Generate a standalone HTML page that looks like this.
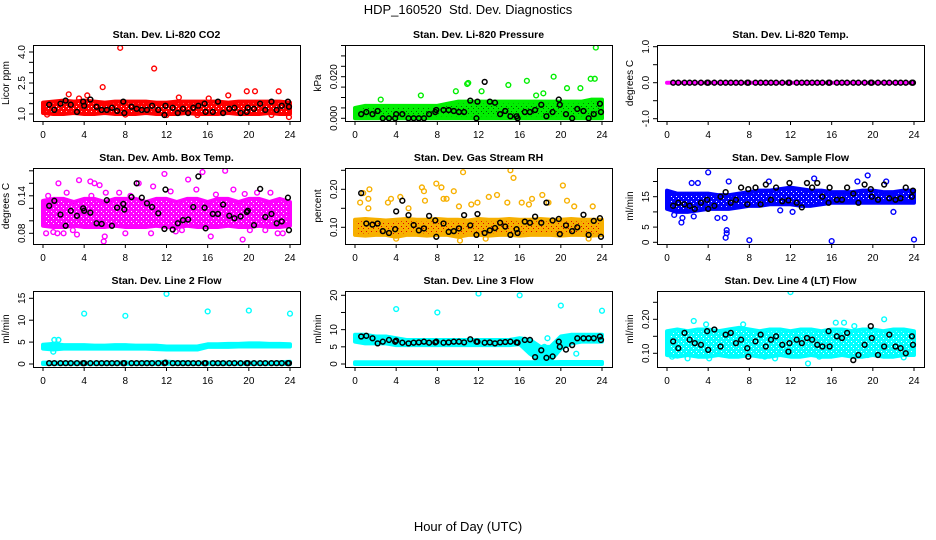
<!DOCTYPE html>
<html><head><meta charset="utf-8">
<style>
html,body{margin:0;padding:0;background:#fff;}
svg{display:block;font-family:"Liberation Sans",sans-serif;}
</style></head>
<body>
<svg id="chart" width="936" height="540" viewBox="0 0 936 540" xmlns="http://www.w3.org/2000/svg">
<defs id="defs"></defs>
<text x="468" y="14" text-anchor="middle" font-size="13">HDP_160520&#160; Std. Dev. Diagnostics</text>
<text x="468" y="531" text-anchor="middle" font-size="13">Hour of Day (UTC)</text>
</svg>
<script>
// shared x ticks
const xTicks = [0,4,8,12,16,20,24];
const hours = [0,1,2,3,4,5,6,7,8,9,10,11,12,13,14,15,16,17,18,19,20,21,22,23,24];
const blackHours = [0.6,1.1,1.7,2.2,2.7,3.3,3.9,4.0,4.6,5.2,5.7,6.2,6.7,7.2,7.8,7.9,8.6,9.1,9.6,10.1,10.6,11.2,11.8,11.9,12.6,13.1,13.6,14.1,14.6,15.1,15.7,15.8,16.5,17,17.5,18.1,18.6,19.2,19.8,19.9,20.5,21.1,21.6,22.2,22.7,23.2,23.8,23.9];

// Panel 1: CO2
const co2BandLo = [1.05,1.0,1.0,1.05,1.0,1.0,1.05,1.0,1.0,1.0,1.05,1.0,1.0,1.0,1.05,1.0,1.0,1.0,1.05,1.0,1.0,1.0,1.05,1.0,1.0];
const co2BandHi = [1.55,1.6,1.65,1.6,1.65,1.6,1.55,1.6,1.6,1.6,1.6,1.55,1.55,1.6,1.6,1.6,1.6,1.6,1.55,1.6,1.6,1.6,1.6,1.6,1.55];
const co2OutX = [7.5,10.8,5.8,2.5,4.3,19.8,20.6,22.9,18,23.9,15,12,22.2,0.4,8,3.5,13.2,16.1];
const co2OutY = [4.2,3.2,2.3,1.95,1.9,2.1,2.1,2.1,1.9,0.85,0.95,0.95,0.95,0.97,0.97,1.75,1.8,1.75];
const co2Black = [1.45,1.2,1.5,1.65,1.45,1.1,1.6,1.4,1.7,1.35,1.2,1.2,1.3,1.15,1.6,1.05,1.35,1.25,1.2,1.2,1.4,1.2,0.95,1.4,1.3,1.05,1.25,1.05,1.3,1.4,1.5,1.1,1.1,1.6,1.05,1.25,1.3,1.05,1.1,1.3,1.25,1.5,1.2,1.6,1.2,1.4,1.6,1.35];

// Panel 2: Pressure
const presBandLo = [0,0,0,0,0,0,0,0,0,0,0,0,0,0,0,0,0,0,0,0,0,0,0,0,0];
const presBandHi = [0.005,0.006,0.006,0.006,0.006,0.006,0.006,0.006,0.006,0.007,0.008,0.008,0.008,0.008,0.008,0.008,0.008,0.008,0.008,0.008,0.008,0.008,0.008,0.009,0.009];
const presOutX = [23.4,23.3,22.9,19.3,16.7,11,14.9,20.6,21.9,9.8,12.3,6.4,2.5,18.3,17.6,10.9];
const presOutY = [0.034,0.019,0.019,0.020,0.018,0.017,0.016,0.0145,0.0145,0.013,0.013,0.011,0.009,0.012,0.011,0.0165];
const presBlack = [0.002,0.003,0.002,0.0035,0,0,0,0.002,0.002,0,0,0,0,0.002,0.003,0.004,0.004,0.004,0.0035,0.003,0.003,0.0085,0,0.008,0.0175,0.008,0.0075,0.002,0.0035,0.001,0.001,0,0.003,0.003,0.004,0.0065,0.001,0.003,0.009,0.0065,0.002,0,0.0045,0.0035,0,0.002,0.007,0.003];

// Panel 3: Temp
const tempBandLo = [0,0,0,0,0,0,0,0,0,0,0,0,0,0,0,0,0,0,0,0,0,0,0,0,0];
const tempBandHi = [0,0,0,0,0,0,0,0,0,0,0,0,0,0,0,0,0,0,0,0,0,0,0,0,0];
const tempOutX = [];
const tempOutY = [];
const tempBlack = [0,0,0,0,0,0,0,0,0,0,0,0,0,0,0,0,0,0,0,0,0,0,0,0,0,0,0,0,0,0,0,0,0,0,0,0,0,0,0,0,0,0,0,0,0,0,0,0];

// Panel 4: Amb Box Temp
const ambBandLo = [0.092,0.09,0.09,0.092,0.09,0.09,0.09,0.092,0.09,0.09,0.09,0.092,0.09,0.09,0.092,0.09,0.09,0.09,0.092,0.09,0.09,0.092,0.09,0.09,0.092];
const ambBandHi = [0.132,0.135,0.135,0.13,0.135,0.135,0.13,0.135,0.135,0.135,0.13,0.135,0.135,0.13,0.135,0.135,0.13,0.135,0.135,0.13,0.135,0.135,0.13,0.135,0.13];
const ambOutX = [5.9,6.0,1.5,3.5,4.6,5.0,5.5,11.8,15.5,17.7,17.7,14.1,9.3,19.4,16.3,0.3,1.4,2.0,3.3,13.5,21.6,22.8,23.3,8,10.5,12.9,18.5,2.3,6.1,7.4,0.5,20.8,22.1,19.6,16.8,14.9,10.7,4.7,8.5,1.0,2.9,12.4,20.1];
const ambOutY = [0.067,0.075,0.16,0.165,0.163,0.16,0.157,0.175,0.178,0.18,0.188,0.166,0.16,0.07,0.075,0.08,0.08,0.08,0.078,0.085,0.085,0.08,0.08,0.08,0.08,0.083,0.15,0.145,0.145,0.145,0.14,0.145,0.145,0.143,0.142,0.15,0.155,0.14,0.14,0.082,0.085,0.147,0.085];
const ambBlack = [0.124,0.132,0.110,0.092,0.116,0.108,0.120,0.116,0.113,0.096,0.095,0.133,0.092,0.121,0.127,0.118,0.138,0.160,0.137,0.128,0.122,0.112,0.087,0.150,0.086,0.096,0.101,0.102,0.122,0.171,0.121,0.088,0.111,0.111,0.126,0.108,0.104,0.107,0.114,0.116,0.093,0.151,0.106,0.111,0.096,0.099,0.137,0.085];

// Panel 5: Gas Stream RH
const rhBandLo = [0.08,0.078,0.08,0.08,0.075,0.08,0.08,0.078,0.08,0.08,0.075,0.08,0.08,0.078,0.08,0.08,0.078,0.08,0.08,0.08,0.078,0.08,0.08,0.078,0.08];
const rhBandHi = [0.12,0.122,0.12,0.118,0.12,0.122,0.12,0.12,0.122,0.12,0.12,0.118,0.122,0.12,0.12,0.122,0.12,0.12,0.122,0.12,0.12,0.122,0.12,0.12,0.12];
const rhOutX = [0.5,0.8,1.4,1.3,1.3,3.2,3.5,4.4,6.5,6.7,6.8,7.9,8.4,8.6,8.9,9.6,10.5,10.1,11.3,11.9,13,13.8,14.8,15.1,15.4,16.2,17.2,18.2,18.8,20.2,20.6,21.3,23.1,10.2,12.7,4,22.7,5.2,16.9];
const rhOutY = [0.165,0.19,0.2,0.175,0.15,0.165,0.175,0.18,0.205,0.195,0.17,0.215,0.205,0.175,0.175,0.195,0.245,0.155,0.16,0.165,0.18,0.185,0.165,0.25,0.23,0.165,0.175,0.185,0.165,0.21,0.17,0.155,0.155,0.065,0.07,0.07,0.07,0.15,0.16];
const rhBlack = [0.19,0.11,0.107,0.11,0.09,0.085,0.095,0.142,0.17,0.132,0.106,0.092,0.097,0.13,0.118,0.075,0.11,0.088,0.09,0.097,0.132,0.105,0.08,0.135,0.085,0.092,0.098,0.112,0.102,0.08,0.095,0.085,0.115,0.112,0.128,0.112,0.165,0.118,0.122,0.082,0.105,0.09,0.1,0.133,0.08,0.117,0.124,0.075];

// Panel 6: Sample Flow
const flowBandLo = [11,10,10,10.5,11,11,11,11.5,12,12,12.5,12.5,12.5,12,12,12.5,13,13,13,13,13,13,13,13,13];
const flowBandHi = [17,16,16,16,16,15.5,15.5,16,16.5,17,17,17.5,18,17.5,17,17,16.5,16.5,16.5,17,17,16.5,16.5,17,17];
const flowOutX = [4,3,5.8,5.8,5.7,8,16,24,1.4,1.5,4.9,5.6,22,12.2,11,19.5,14.3,6,2.4,9.9,21.3,18.5,0.7,2.6];
const flowOutY = [23,19.5,4,3,1.5,0.7,0.4,0.9,6.5,8,8,8,10,10,10.5,22,21,20,19.5,20,20,20,9,8.5];
const flowBlack = [12,13,12.5,12,11,13,14,11,12,15,16.5,13,14,18,12.5,17.5,18,12.5,19,14,18,13.5,13.8,19.5,13,11.5,19.5,18,19.5,15,13,18,14,14,18,16,13,19,17.5,15,14,19,14.5,14,14.5,18,15,17];

// Panel 7: Line 2 Flow
const l2BandLo = [3.5,3.3,3.5,3.5,3.5,3.5,3.5,3.5,3.5,3.5,3.5,3.4,3.3,3.3,3.3,3.3,3.9,3.9,3.9,4.0,4.0,4.0,4.0,4.0,4.0];
const l2BandHi = [4.4,4.6,4.3,4.3,4.3,4.2,4.2,4.3,4.3,4.2,4.2,4.2,4.0,4.0,4.0,4.0,4.5,4.5,4.6,4.6,4.7,4.7,4.6,4.6,4.5];
const l2Band2Lo = [0,0,0,0,0,0,0,0,0,0,0,0,0,0,0,0,0,0,0,0,0,0,0,0,0];
const l2Band2Hi = [0.3,0.3,0.3,0.3,0.3,0.3,0.3,0.3,0.4,0.3,0.4,0.4,0.5,0.4,0.4,0.3,0.3,0.3,0.3,0.3,0.3,0.3,0.3,0.4,0.5];
const l2OutX = [4,8,12,16,20,24,1.1,1.5,1.0];
const l2OutY = [11.5,11,16,12,12.2,11.5,5.5,5.5,2.8];
const l2Black = [0.2,0.2,0.2,0.2,0.2,0.2,0.2,0.2,0.2,0.2,0.2,0.2,0.2,0.2,0.2,0.2,0.2,0.2,0.2,0.2,0.2,0.2,0.2,0.3,0.2,0.2,0.2,0.2,0.2,0.2,0.2,0.2,0.2,0.2,0.2,0.2,0.2,0.2,0.2,0.2,0.2,0.2,0.2,0.2,0.2,0.2,0.2,0.2];

// Panel 8: Line 3 Flow
const l3BandLo = [6.5,6,6,6,5.5,5.5,5.5,5.5,5.5,5.5,5.5,5.5,5.5,5.5,5.5,5.5,5.8,3,1,1,4.5,6,6.5,6.5,6.5];
const l3BandHi = [8.5,8.5,8,8,7.5,7,7,7,7,7,7,7,7,7,7,7,7.5,7,5,5,8,8.5,8.5,8.5,8.5];
const l3Band2Lo = [0,0,0,0,0,0,0,0,0,0,0,0,0,0,0,0,0,0,0,0,0,0,0,0,0];
const l3Band2Hi = [0.5,0.5,0.5,0.5,0.5,0.5,0.5,0.5,0.5,0.5,0.5,0.5,0.5,0.5,0.5,0.5,0.5,0.5,0.5,0.5,0.6,0.6,0.6,0.6,0.6];
const l3OutX = [4,8,12,16,20,24,17.5,18.7,18.4,21.5];
const l3OutY = [16,15,20.5,20,17,15.5,3.5,7.5,5,3];
const l3Black = [8,8.2,7.5,6,6.5,7,6.5,6.8,6.2,6,6.2,6.3,6.5,6.2,6.3,6.5,6.2,6.3,6.5,6.5,6.3,7.2,6.5,6.5,6.2,6.3,6,6.3,6.4,6.5,6.3,6.2,7,7,2,4,1.8,2.2,6.5,5,4.2,5.5,7.5,7.5,7.5,7.5,8,7];

// Panel 9: Line 4 (LT) Flow
const l4BandLo = [0.095,0.09,0.095,0.09,0.09,0.095,0.09,0.09,0.095,0.09,0.09,0.095,0.09,0.09,0.095,0.09,0.09,0.095,0.09,0.09,0.095,0.09,0.09,0.095,0.095];
const l4BandHi = [0.165,0.17,0.165,0.17,0.17,0.165,0.17,0.175,0.17,0.165,0.17,0.17,0.165,0.17,0.17,0.165,0.17,0.17,0.165,0.17,0.17,0.165,0.17,0.17,0.165];
const l4OutX = [4,12,13.7,2,21.1,16.4,2.6,7.4,3.8,17.2,0.5,4.1,10.5,9.5,14.8,19.5,23,18.2];
const l4OutY = [0.29,0.28,0.07,0.085,0.2,0.19,0.195,0.185,0.185,0.19,0.09,0.085,0.085,0.09,0.09,0.095,0.088,0.18];
const l4Black = [0.135,0.115,0.16,0.14,0.13,0.125,0.165,0.11,0.17,0.12,0.155,0.16,0.13,0.14,0.115,0.09,0.135,0.155,0.12,0.14,0.15,0.125,0.105,0.13,0.14,0.13,0.145,0.14,0.125,0.12,0.165,0.12,0.15,0.145,0.16,0.08,0.095,0.125,0.18,0.145,0.095,0.12,0.155,0.12,0.115,0.1,0.15,0.125];

// y tick values / labels
const co2Ticks=[1.0,1.5,2.0,2.5,3.0,3.5,4.0], co2Labels=["1.0","2.5","4.0"];
const presTicks=[0,0.005,0.01,0.015,0.02,0.025,0.03,0.035], presLabels=["0.000","0.020"];
const tempTicks=[-1,-0.5,0,0.5,1], tempLabels=["-1.0","0.0","1.0"];
const ambTicks=[0.08,0.10,0.12,0.14,0.16,0.18], ambLabels=["0.08","0.14"];
const rhTicks=[0.10,0.15,0.20,0.25], rhLabels=["0.10","0.20"];
const flowTicks=[0,5,10,15,20], flowLabels=["0","5","15"];
const l2Ticks=[0,5,10,15], l2Labels=["0","5","10","15"];
const l3Ticks=[0,5,10,15,20], l3Labels=["0","5","10","20"];
const l4Ticks=[0.10,0.15,0.20,0.25], l4Labels=["0.10","0.20"];

const NS="http://www.w3.org/2000/svg";
const svg=document.getElementById('chart');
const defs=document.getElementById('defs');
function mk(tag,attrs,parent){const e=document.createElementNS(NS,tag);for(const k in attrs)e.setAttribute(k,attrs[k]);(parent||svg).appendChild(e);return e;}

const colX=[33,345,657], rowY=[45,168,291], boxW=267, boxH=76;
const panels=[
 {name:'co2',title:'Stan. Dev. Li-820 CO2',ylab:'Licor ppm',c:0,r:0,v0:1.0,p0:114,v1:4.0,p1:52,color:'#ff0000',dot:'#ffffff',lo:co2BandLo,hi:co2BandHi,ox:co2OutX,oy:co2OutY,bk:co2Black,ticks:co2Ticks,labels:co2Labels},
 {name:'pressure',title:'Stan. Dev. Li-820 Pressure',ylab:'kPa',c:1,r:0,v0:0,p0:118.3,v1:0.02,p1:76.7,color:'#00ee00',dot:'#006600',lo:presBandLo,hi:presBandHi,ox:presOutX,oy:presOutY,bk:presBlack,ticks:presTicks,labels:presLabels},
 {name:'temp',title:'Stan. Dev. Li-820 Temp.',ylab:'degrees C',c:2,r:0,v0:-1,p0:118.7,v1:1,p1:46.7,color:'#ff00ff',dot:'#ff00ff',lo:tempBandLo,hi:tempBandHi,ox:tempOutX,oy:tempOutY,bk:tempBlack,ticks:tempTicks,labels:tempLabels},
 {name:'amb-box-temp',title:'Stan. Dev. Amb. Box Temp.',ylab:'degrees C',c:0,r:1,v0:0.08,p0:233.3,v1:0.14,p1:195.8,color:'#ff00ff',dot:'#ffffff',lo:ambBandLo,hi:ambBandHi,ox:ambOutX,oy:ambOutY,bk:ambBlack,ticks:ambTicks,labels:ambLabels},
 {name:'gas-stream-rh',title:'Stan. Dev. Gas Stream RH',ylab:'percent',c:1,r:1,v0:0.10,p0:227.3,v1:0.20,p1:189.3,color:'#f7b000',dot:'#e00000',lo:rhBandLo,hi:rhBandHi,ox:rhOutX,oy:rhOutY,bk:rhBlack,ticks:rhTicks,labels:rhLabels},
 {name:'sample-flow',title:'Stan. Dev. Sample Flow',ylab:'ml/min',c:2,r:1,v0:0,p0:242.3,v1:15,p1:196.7,color:'#0000ff',dot:'#ffffff',lo:flowBandLo,hi:flowBandHi,ox:flowOutX,oy:flowOutY,bk:flowBlack,ticks:flowTicks,labels:flowLabels},
 {name:'line2-flow',title:'Stan. Dev. Line 2 Flow',ylab:'ml/min',c:0,r:2,v0:0,p0:364,v1:15,p1:298.3,color:'#00ffff',dot:'#00ffff',lo:l2BandLo,hi:l2BandHi,lo2:l2Band2Lo,hi2:l2Band2Hi,ox:l2OutX,oy:l2OutY,bk:l2Black,ticks:l2Ticks,labels:l2Labels},
 {name:'line3-flow',title:'Stan. Dev. Line 3 Flow',ylab:'ml/min',c:1,r:2,v0:0,p0:364,v1:20,p1:295.3,color:'#00ffff',dot:'#00ffff',lo:l3BandLo,hi:l3BandHi,lo2:l3Band2Lo,hi2:l3Band2Hi,ox:l3OutX,oy:l3OutY,bk:l3Black,ticks:l3Ticks,labels:l3Labels},
 {name:'line4-flow',title:'Stan. Dev. Line 4 (LT) Flow',ylab:'ml/min',c:2,r:2,v0:0.10,p0:353.3,v1:0.20,p1:319.3,color:'#00ffff',dot:'#ffffff',lo:l4BandLo,hi:l4BandHi,ox:l4OutX,oy:l4OutY,bk:l4Black,ticks:l4Ticks,labels:l4Labels}
];

panels.forEach(p=>{
  const bx=colX[p.c], by=rowY[p.r];
  const x0=bx+10, x1=bx+257;
  const xs=v=>x0+(x1-x0)*v/24;
  const ys=v=>p.p0+(p.p1-p.p0)*(v-p.v0)/(p.v1-p.v0);
  // speckle pattern for dense band
  const pat=mk('pattern',{id:'pat-'+p.name,width:5,height:5,patternUnits:'userSpaceOnUse'},defs);
  mk('rect',{x:0,y:0,width:5,height:5,fill:p.color},pat);
  mk('rect',{x:1,y:1,width:1,height:1,fill:p.dot},pat);
  mk('rect',{x:3,y:3,width:1,height:1,fill:p.dot},pat);
  const g=mk('g',{});
  
  
  const cp=mk('clipPath',{id:'clip-'+p.name},g);
  mk('rect',{x:bx,y:by,width:boxW,height:boxH},cp);
  const t=mk('text',{x:bx+boxW/2,y:by-7,'text-anchor':'middle','font-size':'10.5','font-weight':'bold'},g);
  t.textContent=p.title;
  
  
  const yl=mk('text',{x:0,y:0,transform:`translate(${bx-24},${by+boxH/2}) rotate(-90)`,'text-anchor':'middle','font-size':'10'},g);
  yl.textContent=p.ylab;
  
  
  const data=mk('g',{'clip-path':`url(#clip-${p.name})`},g);
  function band(lo,hi){
    let pts=hours.map((h,i)=>xs(h)+','+ys(hi[i]));
    for(let i=hours.length-1;i>=0;i--)pts.push(xs(hours[i])+','+ys(lo[i]));
    const b=mk('polygon',{points:pts.join(' '),fill:`url(#pat-${p.name})`,stroke:p.color,'stroke-width':4,'stroke-linejoin':'round'},data);
    
    
  }
  band(p.lo,p.hi);
  if(p.lo2)band(p.lo2,p.hi2);
  p.ox.forEach((x,i)=>{
    const c=mk('circle',{cx:xs(x),cy:ys(p.oy[i]),r:2.4,fill:'none',stroke:p.color,'stroke-width':1.4},data);
    
    
  });
  blackHours.forEach((h,i)=>{
    const c=mk('circle',{cx:xs(h),cy:ys(p.bk[i]),r:2.4,fill:'none',stroke:'#000','stroke-width':1.5},data);
    
    
  });
  const box=mk('rect',{x:bx+0.5,y:by+0.5,width:boxW,height:boxH,fill:'none',stroke:'#000','stroke-width':1},g);
  
  
  const xa=mk('g',{},g);
  
  
  mk('line',{x1:xs(0),x2:xs(24),y1:by+boxH+0.5,y2:by+boxH+0.5,stroke:'#000'},xa);
  xTicks.forEach(v=>{
    mk('line',{x1:xs(v),x2:xs(v),y1:by+boxH,y2:by+boxH+4,stroke:'#000'},xa);
    const tl=mk('text',{x:xs(v),y:by+boxH+17,'text-anchor':'middle','font-size':'10'},xa);
    tl.textContent=v;
    
    
  });
  const ya=mk('g',{},g);
  
  
  mk('line',{x1:bx+0.5,x2:bx+0.5,y1:ys(p.ticks[0]),y2:ys(p.ticks[p.ticks.length-1]),stroke:'#000'},ya);
  p.ticks.forEach(v=>{
    mk('line',{x1:bx-4,x2:bx,y1:ys(v),y2:ys(v),stroke:'#000'},ya);
  });
  p.labels.forEach(s=>{
    const v=parseFloat(s);
    const tl=mk('text',{x:0,y:0,transform:`translate(${bx-8},${ys(v)}) rotate(-90)`,'text-anchor':'middle','font-size':'10'},ya);
    tl.textContent=s;
    
    
  });
});
</script>
</body></html>
